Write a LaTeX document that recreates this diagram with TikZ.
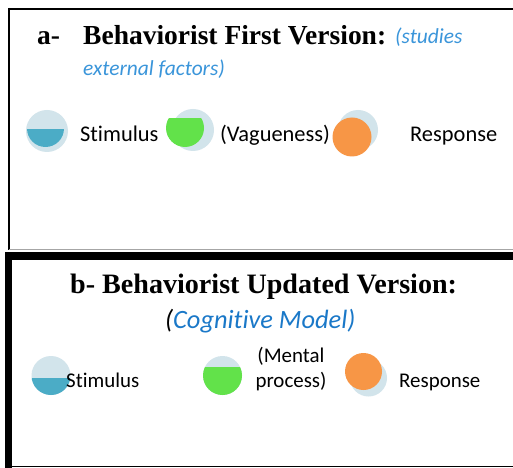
\documentclass[tikz,border=0pt]{standalone}
\usepackage{fontspec}
\newfontfamily\headfont{Liberation Serif}
\newfontfamily\bodyfont[Ligatures=NoCommon]{Carlito}
\begin{document}
\definecolor{discpale}{HTML}{D2E4EB}
\definecolor{discblue}{HTML}{4BACC6}
\definecolor{discgreen}{HTML}{62E24A}
\definecolor{discorange}{HTML}{F79646}
\definecolor{noteblue}{HTML}{3A95DA}
\definecolor{modelblue}{HTML}{1A78C8}
\begin{tikzpicture}[x=1bp,y=-1bp,
  txt/.style={inner sep=0pt, anchor=base west},
  head/.style={txt, font=\headfont\bfseries\fontsize{27.6}{30}\selectfont},
  note/.style={txt, font=\bodyfont\itshape\fontsize{21.5}{24}\selectfont, text=noteblue},
  labela/.style={txt, font=\bodyfont\fontsize{22.5}{25}\selectfont},
  labelb/.style={txt, font=\bodyfont\fontsize{21}{24}\selectfont},
  pale/.style={fill=discpale},
]
\useasboundingbox (0,0) rectangle (513,468);
\fill[white] (0,0) rectangle (513,468);

% ---- frame of part a ----
\draw[line width=2.2bp] (9,9) -- (514,9);
\draw[line width=2.2bp] (9,8) -- (9,250);
\draw[line width=1bp, black!35] (9,249) -- (514,249);

% ---- frame of part b ----
\fill[black] (5,252) rectangle (514,260);
\fill[black] (5,252) rectangle (12,469);
\draw[line width=1.5bp] (5,466.5) -- (514,466.5);

% ---- part a: heading ----
\node[head] (alabel) at (37,45) {a-};
\node[head] (atitle) at (83,45) {Behaviorist First Version:};
\node[note] (anote1) at (395,44) {(studies};
\node[note] (anote2) at (83,76) {external factors)};

% ---- part a: discs ----
\fill[pale] (47,131) circle (21);
\begin{scope}
  \clip (0,130) rectangle (120,200);
  \fill[discblue] (45.5,128.5) circle (18.5);
\end{scope}
\fill[pale] (193,130) circle (21);
\begin{scope}
  \clip (150,119) rectangle (260,200);
  \fill[discgreen] (185,128) circle (19);
\end{scope}
\fill[pale] (358,130) circle (20);
\fill[discorange] (352,137) circle (19.5);

\node[labela] (astim) at (80,142) {Stimulus};
\node[labela] (avague) at (220,142) {(Vagueness)};
\node[labela] (aresp) at (410,142) {Response};

% ---- part b: heading ----
\node[head, font=\headfont\bfseries\fontsize{28.2}{30}\selectfont] (btitle) at (70,293) {b- Behaviorist Updated Version:};
\node[txt, font=\bodyfont\itshape\fontsize{26.5}{30}\selectfont] (bnote) at (165,328)
  {(\textcolor{modelblue}{Cognitive Model)}};

% ---- part b: discs ----
\fill[pale] (51,375.5) circle (19.5);
\begin{scope}
  \clip (0,378) rectangle (120,420);
  \fill[discblue] (51,375.5) circle (19.5);
\end{scope}
\fill[pale] (222.5,375.5) circle (19.5);
\begin{scope}
  \clip (180,367) rectangle (260,420);
  \fill[discgreen] (222.5,375.5) circle (19.5);
\end{scope}
\fill[pale] (368.5,378) circle (18.5);
\fill[discorange] (363.5,371.5) circle (18.5);

\node[labelb] (bstim) at (66,387) {Stimulus};
\node[labelb, anchor=base, align=center] (bmental) at (291,387) {(Mental\\[1pt]process)};
\node[labelb] (bresp) at (399,387) {Response};
\end{tikzpicture}
\end{document}
